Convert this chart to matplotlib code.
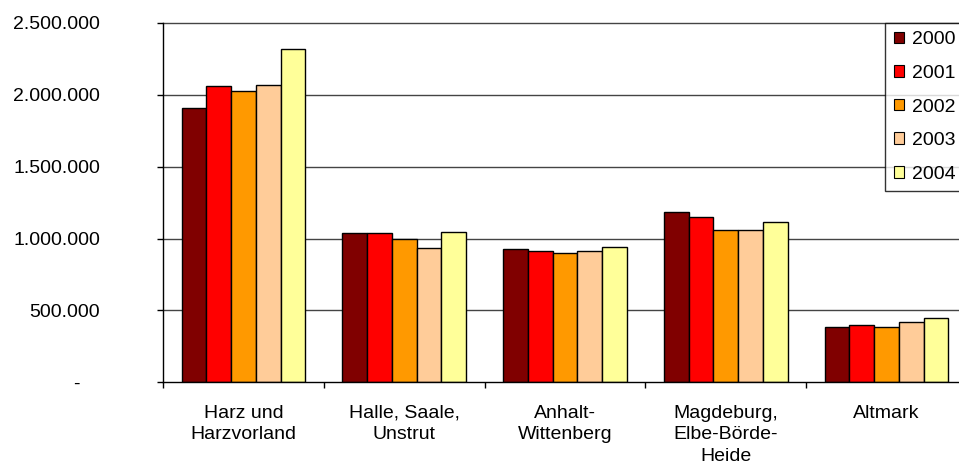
import numpy as np
import matplotlib
matplotlib.use('Agg')
import matplotlib.pyplot as plt
import matplotlib.transforms as mtransforms

plt.rcParams['font.family'] = ['Liberation Sans', 'DejaVu Sans']

# data
regions = ['Harz und\nHarzvorland', 'Halle, Saale,\nUnstrut', 'Anhalt-\nWittenberg',
           'Magdeburg,\nElbe-Börde-\nHeide', 'Altmark']
years = ['2000', '2001', '2002', '2003', '2004']
v2000 = [1910000, 1036000, 925000, 1182000, 382000]
v2001 = [2058000, 1036000, 911000, 1147000, 396000]
v2002 = [2026000, 999000, 899000, 1057000, 382000]
v2003 = [2069000, 932000, 911000, 1057000, 417000]
v2004 = [2318000, 1045000, 943000, 1115000, 449000]
yticks = [0, 500000, 1000000, 1500000, 2000000, 2500000]
ytick_labels = ['-', '500.000', '1.000.000', '1.500.000', '2.000.000', '2.500.000']

series = [v2000, v2001, v2002, v2003, v2004]
colors = ['#800000', '#FF0000', '#FF9900', '#FFCC99', '#FFFF99']

W, H = 959, 475
fig = plt.figure(figsize=(W / 100, H / 100), dpi=100)
# plot area runs a bit past the right edge of the picture, like the original crop
ax = fig.add_axes([163 / W, 1 - 382.3 / H, (967 - 163) / W, (382.3 - 22.8) / H])

w = 1 / 6.5
x = np.arange(len(regions)) + 0.5
for k, vals in enumerate(series):
    ax.bar(x + (k - 2) * w, vals, width=w, color=colors[k], edgecolor='black',
           linewidth=1.0, label=years[k], zorder=3)

ax.set_xlim(0, 5)
ax.set_ylim(0, 2500000)

# gridlines
for v in yticks[1:]:
    ax.axhline(v, color='#444444', linewidth=1.0, zorder=1, clip_on=False)

for s in ['top', 'right']:
    ax.spines[s].set_visible(False)
ax.spines['left'].set_linewidth(1.0)
ax.spines['bottom'].set_linewidth(1.0)
ax.spines['bottom'].set_zorder(4)

ax.set_yticks(yticks)
ax.set_yticklabels(ytick_labels, fontsize=14)
ax.tick_params(axis='y', direction='out', length=4.3, width=1, pad=41)
# the dash for zero sits left of the number column (accounting format)
lbl0 = ax.get_yticklabels()[0]
lbl0.set_transform(lbl0.get_transform() + mtransforms.ScaledTranslation(-20 / 100, 0, fig.dpi_scale_trans))

ax.set_xticks(x)
ax.set_xticklabels(regions, fontsize=14, linespacing=1.35, va='top')
ax.tick_params(axis='x', which='major', length=0, pad=16)
ax.set_xticks(np.arange(0, 6), minor=True)
ax.tick_params(axis='x', which='minor', direction='out', length=4.3, width=1)

leg = fig.legend(loc='upper left', bbox_to_anchor=(885 / W, 1 - 22.7 / H), borderaxespad=0,
                 fontsize=14, frameon=True, fancybox=False, handlelength=0.55, handleheight=0.55,
                 handletextpad=0.4, labelspacing=0.85, borderpad=0.45)
leg.get_frame().set_edgecolor('black')
leg.get_frame().set_linewidth(1.0)
for h in leg.legend_handles:
    h.set_linewidth(0.8)

fig.savefig('out.png', dpi=100)
